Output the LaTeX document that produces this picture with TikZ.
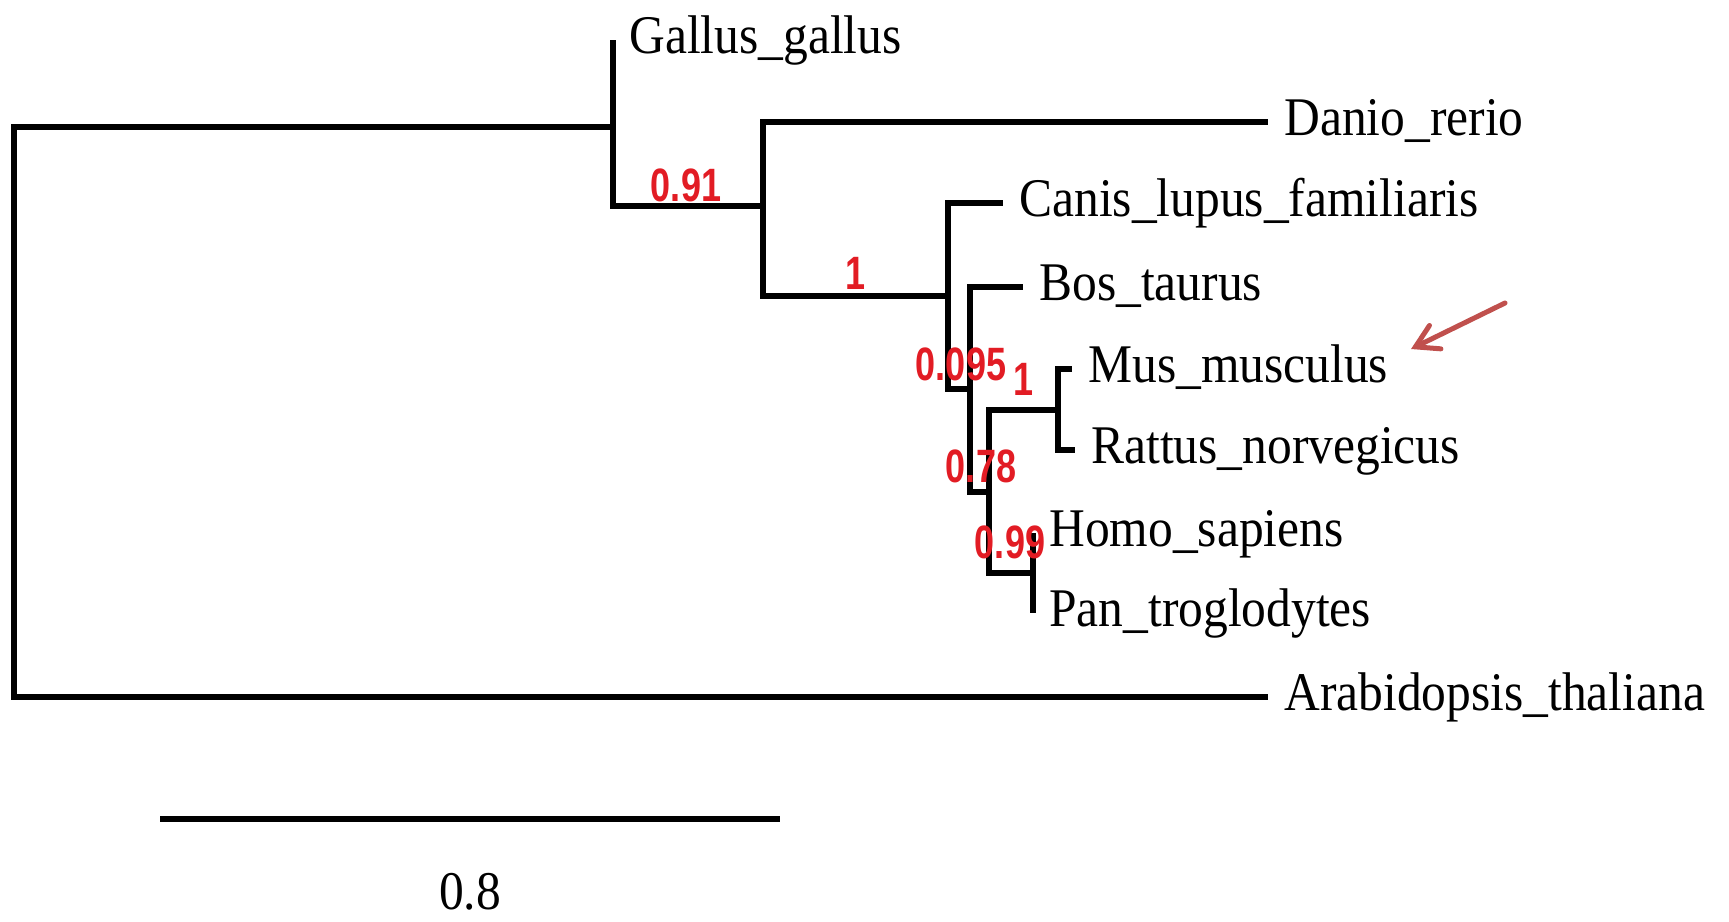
\documentclass[tikz,border=0pt]{standalone}
\usepackage{graphicx,xcolor,fontspec}
\setmainfont{Liberation Serif}
\newfontfamily\suppfont{Liberation Sans}
\usetikzlibrary{arrows.meta}

\definecolor{suppred}{RGB}{226,28,36}
\definecolor{arrowred}{RGB}{192,80,77}
\newcommand{\taxonname}[1]{\scalebox{1}[1.1]{\fontsize{24.75}{28}\selectfont #1}}
\newcommand{\suppvalue}[1]{\scalebox{1}[1.3]{\suppfont\bfseries\fontsize{18}{20}\selectfont #1}}

\begin{document}
\begin{tikzpicture}[x=0.5pt, y=-0.5pt,
  branch/.style={line width=2.8pt},
  taxon/.style={anchor=base west, inner sep=0pt, xshift=8pt, yshift=-6.5pt},
  support/.style={text=suppred, inner sep=0pt}]
  \useasboundingbox (0,0) rectangle (1729,921);

  % internal nodes
  \coordinate (root) at (14,412);
  \coordinate (n1) at (613,127);
  \coordinate (n2) at (763,206);
  \coordinate (n3) at (948,296);
  \coordinate (n4) at (970,389);
  \coordinate (n5) at (989,492);
  \coordinate (n6) at (1058,410);
  \coordinate (n7) at (1033,573);
  % tips
  \coordinate (gallus) at (613,40);
  \coordinate (danio) at (1268,122);
  \coordinate (canis) at (1003,203);
  \coordinate (bos) at (1023,287);
  \coordinate (mus) at (1072,369);
  \coordinate (rattus) at (1075,450);
  \coordinate (homo) at (1033,533);
  \coordinate (pan) at (1033,613);
  \coordinate (arabidopsis) at (1268,697);

  \draw[branch] (root) |- (n1);
  \draw[branch] (root) |- (arabidopsis);
  \draw[branch] (n1) |- (gallus);
  \draw[branch] (n1) |- (n2);
  \draw[branch] (n2) |- (danio);
  \draw[branch] (n2) |- (n3);
  \draw[branch] (n3) |- (canis);
  \draw[branch] (n3) |- (n4);
  \draw[branch] (n4) |- (bos);
  \draw[branch] (n4) |- (n5);
  \draw[branch] (n5) |- (n6);
  \draw[branch] (n5) |- (n7);
  \draw[branch] (n6) |- (mus);
  \draw[branch] (n6) |- (rattus);
  \draw[branch] (n7) |- (homo);
  \draw[branch] (n7) |- (pan);

  \node[taxon] (gallus label) at (gallus) {\taxonname{Gallus\_gallus}};
  \node[taxon] (danio label) at (danio) {\taxonname{Danio\_rerio}};
  \node[taxon] (canis label) at (canis) {\taxonname{Canis\_lupus\_familiaris}};
  \node[taxon] (bos label) at (bos) {\taxonname{Bos\_taurus}};
  \node[taxon] (mus label) at (mus) {\taxonname{Mus\_musculus}};
  \node[taxon] (rattus label) at (rattus) {\taxonname{Rattus\_norvegicus}};
  \node[taxon] (homo label) at (homo) {\taxonname{Homo\_sapiens}};
  \node[taxon] (pan label) at (pan) {\taxonname{Pan\_troglodytes}};
  \node[taxon] (arabidopsis label) at (arabidopsis) {\taxonname{Arabidopsis\_thaliana}};

  \node[support] (s1) at (686,185) {\suppvalue{0.91}};
  \node[support] (s2) at (855,273) {\suppvalue{1}};
  \node[support] (s3) at (961,364) {\suppvalue{0.095}};
  \node[support] (s4) at (1023,379) {\suppvalue{1}};
  \node[support] (s5) at (981,466) {\suppvalue{0.78}};
  \node[support] (s6) at (1010,542) {\suppvalue{0.99}};

  % scale bar
  \coordinate (bar left) at (160,819);
  \coordinate (bar right) at (780,819);
  \draw[branch] (bar left) -- (bar right);
  \node[anchor=base, inner sep=0pt] (bar label) at (470,909) {\taxonname{0.8}};

  \coordinate (arrow tail) at (1505,303);
  \coordinate (arrow head) at (1411,349);
  \draw[arrowred, line width=2.5pt, line cap=round,
    -{Straight Barb[length=11pt, width=13pt, line cap=round]}] (arrow tail) -- (arrow head);
\end{tikzpicture}
\end{document}
